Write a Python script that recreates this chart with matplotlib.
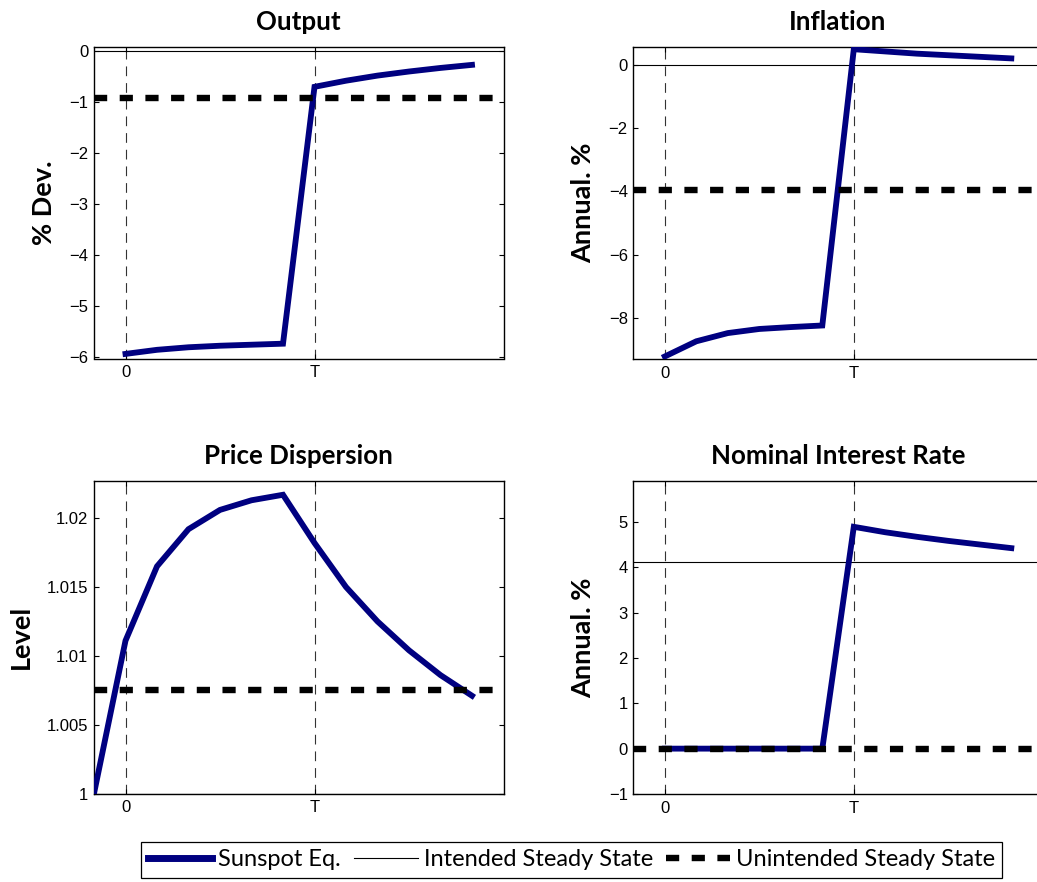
import matplotlib
matplotlib.use("Agg")
import matplotlib.pyplot as plt
import numpy as np

plt.rcParams['lines.scale_dashes'] = False

# ---------------- data ----------------
periods_main = [0, 1, 2, 3, 4, 5, 6, 7, 8, 9, 10, 11]
periods_disp = [-1, 0, 1, 2, 3, 4, 5, 6, 7, 8, 9, 10, 11]
T_index = 6
xtick_labels = ['0', 'T']

output_sunspot = [-5.93, -5.85, -5.80, -5.77, -5.75, -5.73, -0.70, -0.58, -0.48, -0.40, -0.33, -0.27]
output_intended = 0.0
output_unintended = -0.92

inflation_sunspot = [-9.22, -8.74, -8.48, -8.35, -8.29, -8.24, 0.50, 0.43, 0.36, 0.31, 0.26, 0.21]
inflation_intended = 0.0
inflation_unintended = -3.95

dispersion_sunspot = [1.0000, 1.0111, 1.0165, 1.0192, 1.0206, 1.0213, 1.0217, 1.0182,
                      1.0150, 1.0125, 1.0104, 1.0086, 1.0071]
dispersion_intended = 1.0
dispersion_unintended = 1.0075

rate_sunspot = [0, 0, 0, 0, 0, 0, 4.89, 4.77, 4.67, 4.58, 4.50, 4.42]
rate_intended = 4.11
rate_unintended = 0.0

titles = ['Output', 'Inflation', 'Price Dispersion', 'Nominal Interest Rate']
ylabels = ['% Dev.', 'Annual. %', 'Level', 'Annual. %']
legend_labels = ['Sunspot Eq.', 'Intended Steady State', 'Unintended Steady State']

# ---------------- figure ----------------
W, H = 1037, 882
fig = plt.figure(figsize=(W / 100, H / 100), dpi=100)
renderer = fig.canvas.get_renderer()
TITLE_FONT = 'Lato'
LEG_FONT = 'Lato'

def px_axes(left, top, right, bottom):
    return fig.add_axes([left / W, 1 - bottom / H, (right - left) / W, (bottom - top) / H])

def fit_size(text, target_px, weight='normal', family='Lato'):
    t = fig.text(0, 0, text, fontsize=10, fontweight=weight, family=family)
    w = t.get_window_extent(renderer).width
    t.remove()
    return 10 * target_px / w

axes = [
    px_axes(94, 47, 503.5, 358.5),
    px_axes(633.3, 46.7, 1042.8, 359),
    px_axes(94, 481, 503.5, 793.5),
    px_axes(633.3, 481, 1042.8, 794),
]

navy = '#000080'
panels = [
    (periods_main, output_sunspot, output_intended, output_unintended, (-6.02, 0.08),
     [-6, -5, -4, -3, -2, -1, 0], None),
    (periods_main, inflation_sunspot, inflation_intended, inflation_unintended, (-9.3, 0.58),
     [-8, -6, -4, -2, 0], None),
    (periods_disp, dispersion_sunspot, dispersion_intended, dispersion_unintended, (1.0, 1.0227),
     [1.0, 1.005, 1.01, 1.015, 1.02], ['1', '1.005', '1.01', '1.015', '1.02']),
    (periods_main, rate_sunspot, rate_intended, rate_unintended, (-1, 5.9),
     [-1, 0, 1, 2, 3, 4, 5], None),
]

handles = None
for ax, (x, y, intended, unintended, ylim, yticks, ytl) in zip(axes, panels):
    ax.axvline(0, color='#333333', lw=0.8, dashes=(7, 5), zorder=1)
    ax.axvline(T_index, color='#333333', lw=0.8, dashes=(7, 5), zorder=1)
    h2 = ax.axhline(intended, color='black', lw=0.8, zorder=2)
    h1, = ax.plot(x, y, color=navy, lw=4.2, solid_joinstyle='miter', zorder=3)
    h3 = ax.axhline(unintended, color='black', lw=4.6, dashes=(9.5, 9.0), zorder=4)
    if handles is None:
        handles = [h1, h2, h3]
    ax.set_xlim(-1, 12)
    ax.set_ylim(*ylim)
    ax.set_xticks([0, T_index])
    ax.set_xticklabels(xtick_labels)
    ax.set_yticks(yticks)
    if ytl is not None:
        ax.set_yticklabels(ytl)
    ax.tick_params(direction='in', length=3.5, width=0.8, top=True, right=True,
                   labelsize=12)
    ax.tick_params(axis='x', pad=5)
    ax.tick_params(axis='y', pad=4)
    for lab in ax.get_xticklabels() + ax.get_yticklabels():
        lab.set_family('Liberation Sans')
    for s in ax.spines.values():
        s.set_linewidth(1.0)

# titles: target widths (px) and baseline positions
title_widths = [82, 96, 191, 260]
title_xc = [298.75, 838, 298.75, 838]
title_base = [30.5, 30.5, 464, 464]
tsize = np.mean([fit_size(t, w, 'bold', TITLE_FONT) for t, w in zip(titles, title_widths)])
for t, xc, yb in zip(titles, title_xc, title_base):
    fig.text(xc / W, 1 - yb / H, t, ha='center', va='baseline', fontsize=tsize,
             fontweight='bold', family=TITLE_FONT)

# y labels
ylab_len = [83, 123, 63, 123]
ylab_x = [43.5, 583, 20.5, 583]
ysize = np.mean([fit_size(t, w, 'bold', TITLE_FONT) for t, w in zip(ylabels, ylab_len)])
for ax, ylab, xp in zip(axes, ylabels, ylab_x):
    bb = ax.get_position()
    yc = (bb.y0 + bb.y1) / 2
    fig.text(xp / W, yc, ylab, rotation=90, ha='center', va='center',
             fontsize=ysize, fontweight='bold', family=TITLE_FONT)

# legend
lsize = fit_size(legend_labels[1], 230, 'normal', LEG_FONT)
fpx = lsize * 100 / 72
target_w = 1002 - 141

def make_legend(colsp):
    return fig.legend(handles, legend_labels, loc='center', ncol=3,
                      bbox_to_anchor=(571.5 / W, 1 - 860 / H), frameon=True, fancybox=False,
                      edgecolor='black', framealpha=1,
                      handlelength=64 / fpx, handletextpad=6 / fpx,
                      columnspacing=colsp, borderpad=0.3, borderaxespad=0,
                      prop={'family': LEG_FONT, 'size': lsize})

colsp = 12 / fpx
leg = make_legend(colsp)
wcur = leg.get_window_extent(renderer).width
leg.remove()
colsp = colsp + (target_w - wcur) / 2 / fpx
leg = make_legend(colsp)
leg.get_frame().set_linewidth(0.9)
for lh in leg.legend_handles[:1]:
    lh.set_linewidth(5.0)

fig.savefig('out.png', dpi=100)
